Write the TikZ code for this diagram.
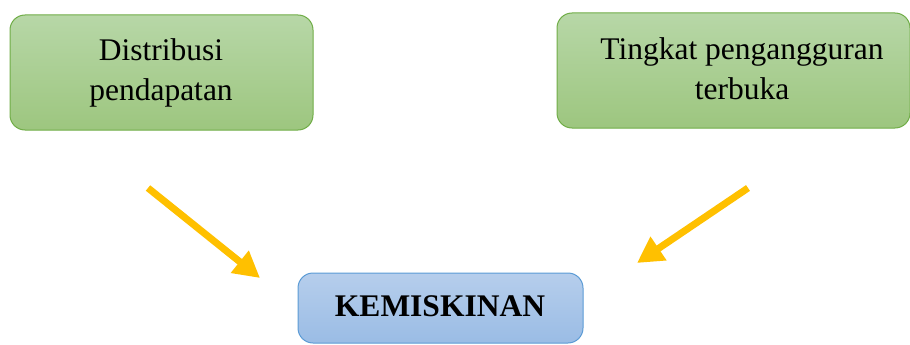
\documentclass[tikz,border=0pt]{standalone}
\usepackage{fontspec}
\setmainfont{Liberation Serif}
\usetikzlibrary{arrows.meta}
\definecolor{gtop}{RGB}{183,215,167}
\definecolor{gbot}{RGB}{157,198,127}
\definecolor{gline}{RGB}{112,173,71}
\definecolor{btop}{RGB}{182,206,236}
\definecolor{bbot}{RGB}{154,188,229}
\definecolor{bline}{RGB}{91,155,213}
\definecolor{arr}{RGB}{255,192,0}
\tikzset{
  greenbox/.style={draw=gline, line width=1pt, rounded corners=15pt, top color=gtop, bottom color=gbot, inner sep=0pt},
  bluebox/.style={draw=bline, line width=1pt, rounded corners=15pt, top color=btop, bottom color=bbot, inner sep=0pt},
  lbl/.style={font=\fontsize{31.5}{40}\selectfont, align=center, inner sep=0pt},
  yarrow/.style={draw=arr, line width=7pt, -{Triangle[length=26pt,width=27pt]}}
}
\begin{document}
\begin{tikzpicture}[x=1pt,y=-1pt]
\useasboundingbox (0,0) rectangle (910,345);
\begin{scope}
\clip (0,0) rectangle (910,345);
\node[greenbox, minimum width=303pt, minimum height=115pt] (b1) at (161.5,72.5) {};
\node[greenbox, minimum width=353pt, minimum height=115pt] (b2) at (733.5,70.5) {};
\node[bluebox, minimum width=285pt, minimum height=70pt] (b3) at (440.5,308) {};
\end{scope}
\node[lbl] (t1) at (161,72.5) {Distribusi\\pendapatan};
\node[lbl] (t2) at (742,69) {Tingkat pengangguran\\terbuka};
\node[lbl, font=\fontsize{31.5}{40}\selectfont\bfseries] (t3) at (440,306) {KEMISKINAN};
\coordinate (a1s) at (148,188);
\coordinate (a1e) at (260,278);
\coordinate (a2s) at (748,188);
\coordinate (a2e) at (637,263);
\draw[yarrow] (a1s) -- (a1e);
\draw[yarrow] (a2s) -- (a2e);
\end{tikzpicture}
\end{document}
